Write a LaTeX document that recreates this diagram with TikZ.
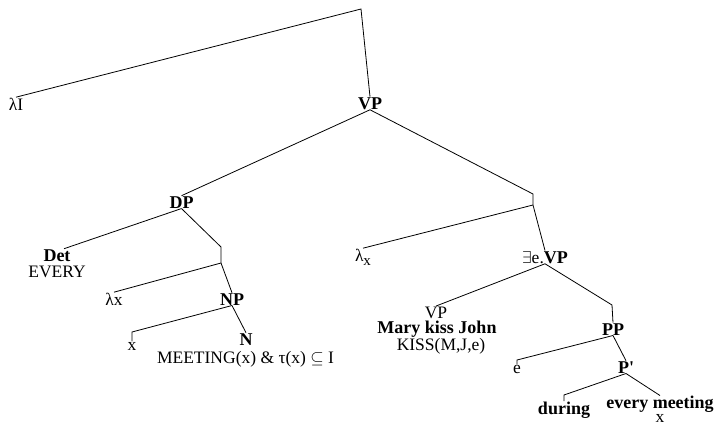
\documentclass[tikz,border=0pt]{standalone}
\usepackage{fontspec}
\setmainfont{Liberation Serif}
\begin{document}
\begin{tikzpicture}[x=1pt,y=-1pt,
  lab/.style={inner sep=0.3pt,anchor=base,font=\fontsize{17.5}{18}\selectfont},
  blab/.style={lab,font=\fontsize{18}{19}\selectfont\bfseries},
  edge/.style={draw=black,line width=0.8pt}]
\useasboundingbox (0,0) rectangle (715,426);
% corners
\coordinate (top) at (361,9);
\coordinate (c1a) at (221,247);
\coordinate (c1b) at (221,263);
\coordinate (c2) at (132,332);
\coordinate (c3a) at (533,194);
\coordinate (c3b) at (533,205);
\coordinate (c4) at (612,305);
\coordinate (c5) at (517,360);
\coordinate (c6) at (564,395);
% labels
\node[lab] (lamI) at (16,110) {λI};
\node[blab] (VP) at (370,109) {VP};
\node[blab] (DP) at (181.5,208) {DP};
\node[blab] (Det) at (57,261) {Det};
\node[lab] (every) at (57,277) {EVERY};
\node[lab] (lx1) at (114,305) {λx};
\node[blab] (NP) at (232,305) {NP};
\node[lab] (x1) at (132,350) {x};
\node[blab] (N) at (246,345) {N};
\node[lab] (meet) at (245.5,363) {MEETING(x) \& τ(x) $\subseteq$ I};
\node[lab] (lx2) at (363,261) {λ\raisebox{-4pt}{\fontsize{15}{15}\selectfont x}};
\node[lab] (EVP) at (545,263) {$\exists$e.\textbf{\fontsize{18}{19}\selectfont VP}};
\node[lab] (VP2) at (436,318) {VP};
\node[blab] (mary) at (437,333) {Mary kiss John};
\node[lab] (kiss) at (441,350.5) {KISS(M,J,e)};
\node[blab] (PP) at (613,335) {PP};
\node[lab] (e) at (517,373) {e};
\node[blab] (Pbar) at (626,373) {P\textquotesingle};
\node[blab] (during) at (564,414) {during};
\node[blab] (em) at (660,408.5) {every meeting};
\node[lab] (x2) at (660,422.5) {x};
% connectors
\draw[edge] (lamI.north) -- (top) -- (VP.north);
\draw[edge] (VP.south) -- (DP.north);
\draw[edge] (VP.south) -- (c3a) -- (c3b);
\draw[edge] (DP.south) -- ([xshift=7pt]Det.north);
\draw[edge] (DP.south) -- (c1a) -- (c1b);
\draw[edge] (c1b) -- (lx1.north);
\draw[edge] (c1b) -- (NP.north);
\draw[edge] (NP.south) -- (c2) -- (x1.north);
\draw[edge] (NP.south) -- (N.north);
\draw[edge] (c3b) -- (lx2.north);
\draw[edge] (c3b) -- (EVP.north);
\draw[edge] (EVP.south) -- (VP2.north);
\draw[edge] (EVP.south) -- (c4) -- (PP.north);
\draw[edge] (PP.south) -- (c5) -- (e.north);
\draw[edge] (PP.south) -- (Pbar.north);
\draw[edge] (Pbar.south) -- (c6) -- (during.north);
\draw[edge] (Pbar.south) -- (em.north);
\end{tikzpicture}
\end{document}
